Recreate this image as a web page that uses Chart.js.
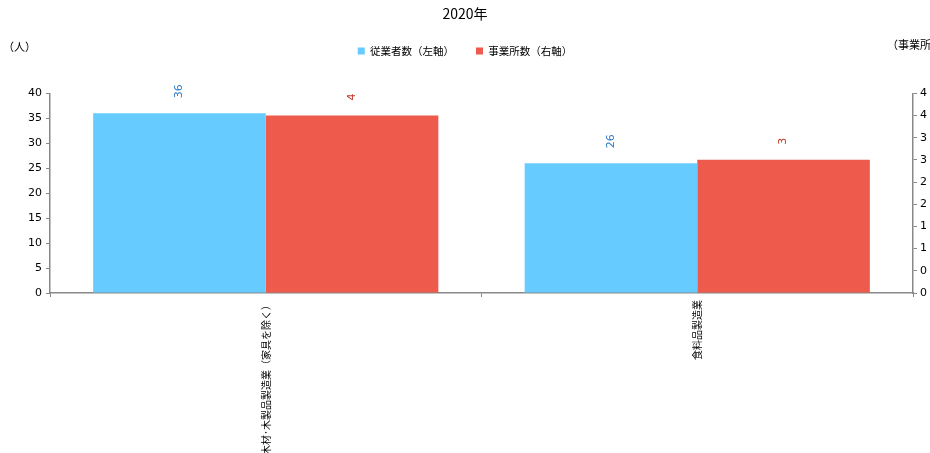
<!DOCTYPE html>
<html>
<head>
<meta charset="utf-8">
<script src="https://cdn.jsdelivr.net/npm/chart.js@4/dist/chart.umd.min.js"></script>
<style>
  html, body { margin: 0; padding: 0; background: #fff; }
  #wrap { width: 930px; height: 453px; }
</style>
</head>
<body>
<div id="wrap"><canvas id="myChart"></canvas></div>
<script>
document.addEventListener("DOMContentLoaded", function () {

    const categories = ["木材･木製品製造業（家具を除く）", "食料品製造業"];
    const workers = [36, 26];
    const offices = [4, 3];
    const leftTicks = [0, 5, 10, 15, 20, 25, 30, 35, 40];
    const rightTickLabels = ["0", "0", "1", "1", "2", "2", "3", "3", "4", "4"];

    const FONT = "'DejaVu Sans', 'Noto Sans CJK JP', sans-serif";
    const JP = "'Noto Sans CJK JP', sans-serif";

    // extra room under the legend
    const legendGap = {
        id: "legendGap",
        beforeInit(chart) {
            const fit = chart.legend.fit;
            chart.legend.fit = function () {
                fit.bind(chart.legend)();
                this.height += 27;
            };
        }
    };

    // rotated value labels above bars + axis unit captions
    const extras = {
        id: "extras",
        afterDatasetsDraw(chart) {
            const ctx = chart.ctx;
            const colours = ["#2E7BC8", "#C0392B"];
            chart.data.datasets.forEach((ds, i) => {
                const meta = chart.getDatasetMeta(i);
                meta.data.forEach((bar, j) => {
                    ctx.save();
                    ctx.translate(bar.x, bar.y - 15);
                    ctx.rotate(-Math.PI / 2);
                    ctx.font = "11px " + FONT;
                    ctx.fillStyle = colours[i];
                    ctx.textAlign = "left";
                    ctx.textBaseline = "middle";
                    ctx.fillText(String(ds.data[j]), 0, 0);
                    ctx.restore();
                });
            });
            ctx.save();
            ctx.font = "11px " + JP;
            ctx.fillStyle = "#000";
            ctx.textBaseline = "middle";
            ctx.textAlign = "left";
            ctx.fillText("（人）", 3, 47);
            ctx.fillText("（事業所）", 887, 45);
            ctx.restore();
        }
    };

    const ctx = document.getElementById("myChart").getContext("2d");

    new Chart(ctx, {
        type: "bar",
        data: {
            labels: categories,
            datasets: [
                {
                    label: "従業者数（左軸）",
                    data: workers,
                    backgroundColor: "#66CCFF",
                    yAxisID: "y",
                    categoryPercentage: 0.8,
                    barPercentage: 1
                },
                {
                    label: "事業所数（右軸）",
                    data: offices,
                    backgroundColor: "#EE5A4C",
                    yAxisID: "y1",
                    categoryPercentage: 0.8,
                    barPercentage: 1
                }
            ]
        },
        options: {
            responsive: true,
            maintainAspectRatio: false,
            animation: false,
            layout: { padding: 0 },
            plugins: {
                tooltip: { enabled: false },
                title: {
                    display: true,
                    text: "2020年",
                    color: "#000",
                    font: { family: JP, size: 14, weight: "normal" },
                    padding: { top: 5, bottom: 2 }
                },
                legend: {
                    position: "top",
                    labels: {
                        boxWidth: 7,
                        boxHeight: 7,
                        color: "#000",
                        font: { family: JP, size: 10.5 },
                        padding: 22
                    }
                }
            },
            scales: {
                x: {
                    offset: true,
                    afterFit: (axis) => { axis.height = 160; },
                    border: { color: "#888", width: 1.5 },
                    grid: { display: true, drawOnChartArea: false, offset: true, tickLength: 4, color: "#888" },
                    ticks: {
                        maxRotation: 90,
                        minRotation: 90,
                        color: "#000",
                        font: { family: JP, size: 10 }
                    }
                },
                y: {
                    position: "left",
                    min: 0,
                    max: 40,
                    afterFit: (axis) => { axis.width = 50; },
                    afterBuildTicks: (axis) => { axis.ticks = leftTicks.map(v => ({ value: v })); },
                    border: { color: "#888", width: 1.5 },
                    grid: { display: true, drawOnChartArea: false, tickLength: 4, color: "#888" },
                    ticks: { color: "#000", font: { family: FONT, size: 11 }, padding: 4 }
                },
                y1: {
                    position: "right",
                    min: 0,
                    max: 4.5,
                    afterFit: (axis) => { axis.width = 17; },
                    afterBuildTicks: (axis) => {
                        axis.ticks = rightTickLabels.map((_, i) => ({ value: i * 0.5 }));
                    },
                    border: { color: "#888", width: 1.5 },
                    grid: { display: true, drawOnChartArea: false, tickLength: 4, color: "#888" },
                    ticks: {
                        color: "#000",
                        font: { family: FONT, size: 11 },
                        padding: 3,
                        callback: (value, index) => rightTickLabels[index]
                    }
                }
            }
        },
        plugins: [legendGap, extras]
    });
});
</script>
</body>
</html>
